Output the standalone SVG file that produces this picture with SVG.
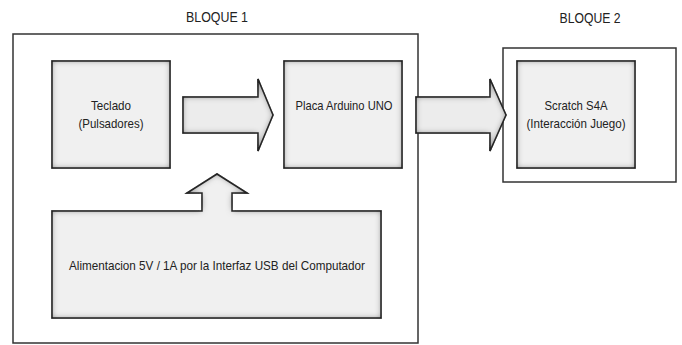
<svg xmlns="http://www.w3.org/2000/svg" width="682" height="345" viewBox="0 0 682 345">
<defs>
<style>
.frame{fill:#fff;stroke:#333;stroke-width:1.5}
.box{fill:#f0f0f0;stroke:#2a2a2a;stroke-width:1.5;filter:url(#inset)}
.arr{fill:#ececec;stroke:#2a2a2a;stroke-width:1.5;stroke-linejoin:miter;filter:url(#inset)}
.t{font-family:"Liberation Sans",Arial,sans-serif;font-size:13px;fill:#222;text-anchor:middle}
.h{font-family:"Liberation Sans",Arial,sans-serif;font-size:15px;fill:#222;text-anchor:middle}
</style>
<filter id="inset" x="-10%" y="-10%" width="120%" height="120%">
<feFlood flood-color="#222" result="f"/>
<feComposite in="f" in2="SourceAlpha" operator="out" result="o"/>
<feGaussianBlur in="o" stdDeviation="3" result="b"/>
<feComposite in="b" in2="SourceAlpha" operator="in" result="s"/>
<feMerge><feMergeNode in="SourceGraphic"/><feMergeNode in="s"/></feMerge>
</filter>
</defs>
<rect width="682" height="345" fill="#fff"/>
<g id="bloque1">
<rect class="frame" x="13" y="34" width="405" height="309"/>
<text class="h" x="217" y="22" textLength="62" lengthAdjust="spacingAndGlyphs">BLOQUE 1</text>
</g>
<g id="bloque2">
<rect class="frame" x="503" y="48" width="173" height="134"/>
<text class="h" x="590" y="23" textLength="61" lengthAdjust="spacingAndGlyphs">BLOQUE 2</text>
</g>
<g id="connectors">
<path class="arr" d="M183,97 H258 V79 L273,115 L258,151 V133 H183 Z"/>
<path class="arr" d="M416,97 H490 V79 L506,115 L490,151 V133 H416 Z"/>
</g>
<g id="teclado">
<rect class="box" x="52" y="61" width="118" height="107"/>
<text class="t" x="111" y="110" textLength="40" lengthAdjust="spacingAndGlyphs">Teclado</text>
<text class="t" x="111" y="128" textLength="65" lengthAdjust="spacingAndGlyphs">(Pulsadores)</text>
</g>
<g id="arduino">
<rect class="box" x="284" y="61" width="118" height="107"/>
<text class="t" x="344" y="110" textLength="97" lengthAdjust="spacingAndGlyphs">Placa Arduino UNO</text>
</g>
<g id="scratch">
<rect class="box" x="517" y="61" width="118" height="107"/>
<text class="t" x="576" y="110" textLength="63" lengthAdjust="spacingAndGlyphs">Scratch S4A</text>
<text class="t" x="576" y="128" textLength="99" lengthAdjust="spacingAndGlyphs">(Interacción Juego)</text>
</g>
<g id="alimentacion">
<path class="box" d="M52,211 H202 V193 H187 L217,174 L247,193 H232 V211 H381 V318 H52 Z"/>
<text class="t" x="217" y="270" textLength="296" lengthAdjust="spacingAndGlyphs">Alimentacion 5V / 1A por la Interfaz USB del Computador</text>
</g>
</svg>
